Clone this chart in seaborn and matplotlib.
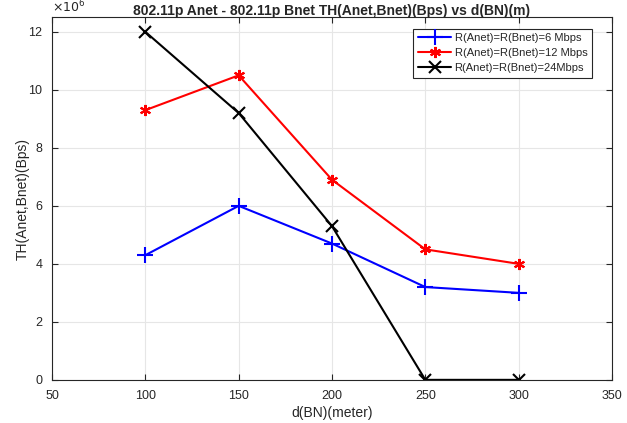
import pandas as pd
import seaborn as sns
import matplotlib.pyplot as plt
import numpy as np

# distanze e throughput (x1e6 Bps)
dist = [100, 150, 200, 250, 300]
th_6 = [4.3, 6.0, 4.7, 3.2, 3.0]
th_12 = [9.3, 10.5, 6.9, 4.5, 4.0]
th_24 = [12.0, 9.2, 5.3, 0.0, 0.0]

labels = ["R(Anet)=R(Bnet)=6 Mbps", "R(Anet)=R(Bnet)=12 Mbps", "R(Anet)=R(Bnet)=24Mbps"]
colors = ["#0000ff", "#ff0000", "#000000"]
markers = ["+", (6, 2, 0), "x"]
msizes = [11, 8, 8]

df = pd.DataFrame({
    "d": dist * 3,
    "th": np.array(th_6 + th_12 + th_24) * 1e6,
    "serie": [labels[0]] * 5 + [labels[1]] * 5 + [labels[2]] * 5,
})

sns.set_style("whitegrid")
plt.rcParams['font.family'] = ['Liberation Sans', 'DejaVu Sans']

fig = plt.figure(figsize=(6.27, 4.23), dpi=100)
ax = fig.add_axes([0.083, 0.102, 0.893, 0.857])

for lbl, c, m, ms in zip(labels, colors, markers, msizes):
    sub = df[df.serie == lbl]
    sns.lineplot(data=sub, x="d", y="th", ax=ax, color=c, marker=m,
                 markersize=ms, markeredgewidth=1.5, markeredgecolor=c,
                 linewidth=1.5, label=lbl)

ax.set_xlim(50, 350)
ax.set_ylim(0, 12.5e6)
ax.set_xticks(range(50, 351, 50))
ax.set_yticks(np.arange(0, 13, 2) * 1e6)
ax.set_yticklabels([str(v) for v in range(0, 13, 2)])
ax.text(0.0, 1.006, r"$\times10^6$", transform=ax.transAxes, fontsize=9, color="#262626",
        ha="left", va="bottom")

ax.grid(True, color="#e6e6e6", linewidth=0.8)
for s in ax.spines.values():
    s.set_color("#262626")
    s.set_linewidth(0.8)
ax.tick_params(axis="both", labelsize=9, colors="#262626", direction="in", length=4,
               pad=7, left=True, bottom=True, top=True, right=True)

ax.set_xlabel("d(BN)(meter)", fontsize=10, color="#262626", labelpad=3)
ax.set_ylabel("TH(Anet,Bnet)(Bps)", fontsize=10, color="#262626", labelpad=-1)
ax.set_title("802.11p Anet - 802.11p Bnet TH(Anet,Bnet)(Bps) vs d(BN)(m)",
             fontsize=10, fontweight="bold", pad=1.8)

leg = ax.legend(loc="upper right", fontsize=8, frameon=True, fancybox=False,
                edgecolor="#262626", framealpha=1, handlelength=3.0,
                borderpad=0.4, labelspacing=0.45, handletextpad=0.3,
                borderaxespad=0, bbox_to_anchor=(0.964, 0.968))
leg.get_frame().set_linewidth(0.8)

plt.savefig("out.png", dpi=100)
